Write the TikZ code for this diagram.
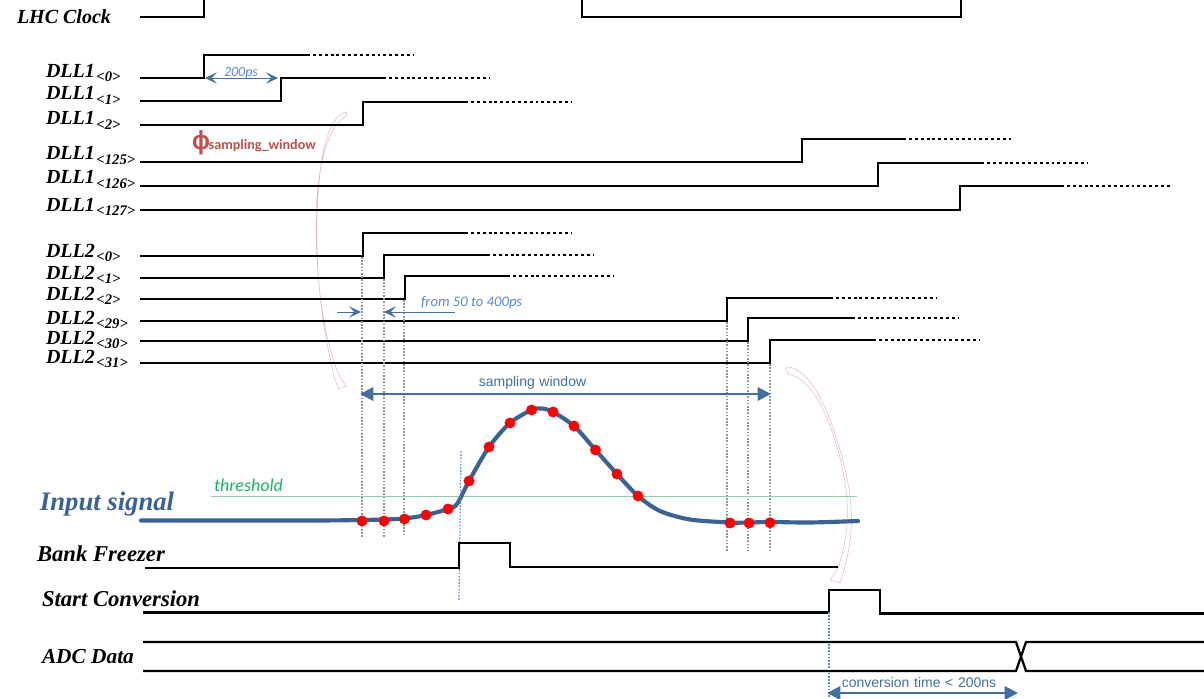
\documentclass[tikz,border=0pt]{standalone}
\usepackage{fontspec}
\setmainfont{Liberation Serif}
\newfontfamily\armfont{Liberation Sans}
\newfontfamily\calfont{Carlito}
\usetikzlibrary{arrows.meta,calc}
\definecolor{sigblue}{HTML}{3A6393}
\definecolor{lblblue}{HTML}{5B8AC6}
\definecolor{arrblue}{HTML}{41709F}
\definecolor{thgreen}{HTML}{92CFA8}
\definecolor{thtext}{HTML}{1DB36B}
\definecolor{phired}{HTML}{C0504D}
\definecolor{curvepink}{HTML}{E3B9B8}
\newcommand{\sigsize}[1]{\fontsize{#1}{#1}\selectfont\bfseries\itshape}
% label with subscript: x, baseline y, name, subscript, drop
\newcommand{\dlllabel}[5]{\node[lbl,font=\sigsize{15pt}] (#3-#4) at (#1,#2) {#3\raisebox{-#5pt}{\hspace{1.2pt}\sigsize{11pt}<#4>}};}
% rising wave: name, y low, x edge, y high, x solid end, x dotted end
\newcommand{\wave}[6]{%
  \coordinate (#1s) at (140,#2);\coordinate (#1e) at (#3,#4);
  \coordinate (#1f) at (#5,#4);\coordinate (#1g) at (#6,#4);
  \draw[sig] (#1s) -- (#3,#2) -- (#1e) -- (#1f);
  \draw[dots] ($(#1f)+(3,0)$) -- (#1g);}
\tikzset{
  lbl/.style={anchor=base west,inner sep=0pt,outer sep=0pt},
  sig/.style={line width=2pt,black,line join=miter},
  sigthin/.style={line width=1.7pt,black,line join=miter},
  dots/.style={line width=2pt,black,dash pattern=on 2.2pt off 2.2pt},
  guide/.style={line width=0.9pt,gray!85,dash pattern=on 1.2pt off 1.2pt},
  bguide/.style={line width=0.9pt,lblblue,dash pattern=on 1.2pt off 1.2pt},
  bigarrow/.style={line width=1.7pt,arrblue,{Triangle[length=10pt,width=10pt]}-{Triangle[length=10pt,width=10pt]}},
  smallarrow/.style={line width=0.6pt,arrblue,-{Stealth[length=9pt,width=8.5pt,inset=4pt,line width=0.4pt]}},
  dot/.style={circle,fill=red,draw=none,minimum size=8.2pt,inner sep=0pt},
  pinkcurve/.style={line width=0.4pt,curvepink}
}
\begin{document}
\begin{tikzpicture}[x=0.75pt,y=-0.75pt]
\useasboundingbox (0,0) rectangle (1204,699);

% curved block arrows (behind)
\draw[pinkcurve] (347,112) .. controls (338,112) and (326,128) .. (321,165)
  .. controls (314,215) and (315,295) .. (331,362) -- (335,380) -- (339,389) -- (346,386) -- (339,375)
  .. controls (324,340) and (316,280) .. (316,225) .. controls (316,180) and (324,128) .. (346,116) -- cycle;
\draw[pinkcurve] (786,367) .. controls (800,366) and (820,385) .. (836,437)
  .. controls (853,490) and (858,530) .. (840,583) -- (830,580) -- (838,568)
  .. controls (851,530) and (851,490) .. (834,437) .. controls (820,395) and (805,378) .. (788,374) -- cycle;

% clock
\node[lbl,font=\sigsize{15pt}] (lhc) at (17,24) {LHC Clock};
\coordinate (c0) at (140,17);\coordinate (c1) at (204,0);\coordinate (c2) at (582,0);\coordinate (c3) at (961,0);
\draw[sig] (c0) -- (204,17) -- (c1);
\draw[sig] (c2) -- (582,17) -- (961,17) -- (c3);

% DLL1
\dlllabel{46}{78}{DLL1}{0}{3}
\dlllabel{46}{100}{DLL1}{1}{3.5}
\dlllabel{46}{125}{DLL1}{2}{3}
\dlllabel{46}{159}{DLL1}{125}{3.8}
\dlllabel{46}{183}{DLL1}{126}{3.8}
\dlllabel{46}{211}{DLL1}{127}{3.5}
\wave{a0}{78}{204}{55}{310}{413}
\wave{a1}{101}{281}{78}{386}{490}
\wave{a2}{125}{363}{102}{468}{572}
\wave{a3}{162}{802}{139}{906}{1011}
\wave{a4}{186}{878}{163}{984}{1088}
\wave{a5}{210}{960}{186}{1064}{1170}

% DLL2
\dlllabel{46}{257}{DLL2}{0}{3}
\dlllabel{46}{279}{DLL2}{1}{3.2}
\dlllabel{46}{300}{DLL2}{2}{3.2}
\dlllabel{46}{324}{DLL2}{29}{3.2}
\dlllabel{46}{344}{DLL2}{30}{3.5}
\dlllabel{46}{363}{DLL2}{31}{3.5}
\wave{b0}{256}{363}{233}{468}{572}
\wave{b1}{278}{384}{255}{490}{593}
\wave{b2}{299}{405}{276}{510}{614}
\wave{b3}{321}{727}{298}{833}{937}
\wave{b4}{341}{748}{318}{855}{958}
\wave{b5}{363}{770}{340}{876}{979}

% guides
\coordinate (g0) at (362,538);\coordinate (g1) at (384,538);\coordinate (g2) at (404,536);
\coordinate (g3) at (727,552);\coordinate (g4) at (748,551);\coordinate (g5) at (770,552);
\draw[guide] (362,257) -- (g0);
\draw[guide] (384,279) -- (g1);
\draw[guide] (404,300) -- (g2);
\draw[guide] (727,322) -- (g3);
\draw[guide] (748,342) -- (g4);
\draw[guide] (770,364) -- (g5);

% annotations
\coordinate (p1) at (205,78);\coordinate (p2) at (278,78);
\draw[smallarrow,{Stealth[length=9pt,width=8.5pt,inset=4pt,line width=0.4pt]}-{Stealth[length=9pt,width=8.5pt,inset=4pt,line width=0.4pt]}] (p1) -- (p2);
\node[font=\calfont\itshape\fontsize{10.5pt}{10.5pt}\selectfont,text=lblblue,lbl] (t200) at (224,76.5) {200ps};
\coordinate (q1) at (337,312);\coordinate (q2) at (361,312);\coordinate (q3) at (455,312);\coordinate (q4) at (384,312);
\draw[smallarrow] (q1) -- (q2);
\draw[smallarrow] (q3) -- (q4);
\node[font=\calfont\itshape\fontsize{11pt}{11pt}\selectfont,text=lblblue,lbl] (t50) at (421,306.5) {from 50 to 400ps};
\node[lbl,text=phired,font=\calfont\bfseries\fontsize{10.6pt}{10.6pt}\selectfont] (phi) at (192,150)
  {\makebox[12.5pt][l]{\fontspec{Liberation Sans}\fontsize{17pt}{17pt}\selectfont\scalebox{1.05}[1.15]{ϕ}}sampling\_window};

\coordinate (w1) at (360,394);\coordinate (w2) at (771,394);
\draw[bigarrow] (w1) -- (w2);
\node[font=\armfont\fontsize{10.5pt}{10.5pt}\selectfont,text=arrblue] (tw) at (532.5,382.5) {sampling\,\,window};

% threshold
\coordinate (th1) at (211,496.5);\coordinate (th2) at (857,496.5);
\draw[thgreen,line width=1.1pt] (th1) -- (th2);
\node[lbl,text=thtext,font=\calfont\itshape\fontsize{13.5pt}{13.5pt}\selectfont] (tth) at (214,491) {threshold};

% input signal
\node[lbl,text=sigblue,font=\sigsize{20pt}] (input) at (40,510) {Input signal};
\draw[sigblue,line width=3.1pt,line cap=round]
 plot[smooth,tension=0.5] coordinates {(141,520.5) (250,520.5) (320,520.5) (362,520) (384,519.5) (404.5,518.5) (426,515) (448,509)
 (457,504) (469,481) (489,447) (510,423) (531.5,410) (542,408.5) (553,412) (574,426) (595.5,450) (617,474) (638,496) (660,511) (690,519.5) (730,522.5) (749,522.5) (770,522) (810,522.5) (858,521)};
\foreach \n/\x/\y in {d1/362/521,d2/384/521,d3/404.5/519,d4/426/515,d5/448/509,d6/469/481,d7/489/447,d8/510/423,d9/531.5/410,d10/553/412,d11/574/426,d12/595.5/450,d13/617/474,d14/638/496,d15/730/523,d16/749/523,d17/770/522.7}
  \node[dot] (\n) at (\x,\y) {};

% lower signals
\coordinate (bf0) at (461,451);\coordinate (bf1) at (459,600);
\draw[bguide] (bf0) -- (bf1);
\node[lbl,font=\sigsize{17pt}] (bank) at (37,561) {Bank Freezer};
\coordinate (bs) at (145,568);\coordinate (be) at (838,567);
\draw[sigthin] (bs) -- (459,568) -- (459,543) -- (510,543) -- (510,567) -- (be);
\node[lbl,font=\sigsize{17pt}] (start) at (42,606) {Start Conversion};
\coordinate (ss) at (143,612.5);\coordinate (se) at (1204,613.5);
\draw[sigthin] (ss) -- (829,612.5) -- (829,590) -- (880,590) -- (880,613.5) -- (se);
\coordinate (cg0) at (829,612);\coordinate (cg1) at (829,697);
\draw[bguide] (cg0) -- (cg1);
\node[lbl,font=\sigsize{16pt}] (adc) at (42,663) {ADC Data};
\coordinate (dt0) at (143,642);\coordinate (dt1) at (1204,642);
\coordinate (db0) at (143,671);\coordinate (db1) at (1204,671);
\draw[sigthin] (dt0) -- (1016,642) -- (1026,671) -- (db1);
\draw[sigthin] (db0) -- (1016,671) -- (1026,642) -- (dt1);

\coordinate (ct1) at (827,693);\coordinate (ct2) at (1018,693);
\draw[bigarrow] (ct1) -- (ct2);
\node[font=\armfont\fontsize{10.5pt}{10.5pt}\selectfont,text=arrblue] (tconv) at (919,682) {conversion\,\,time\,\,<\,\,200ns};
\end{tikzpicture}
\end{document}
